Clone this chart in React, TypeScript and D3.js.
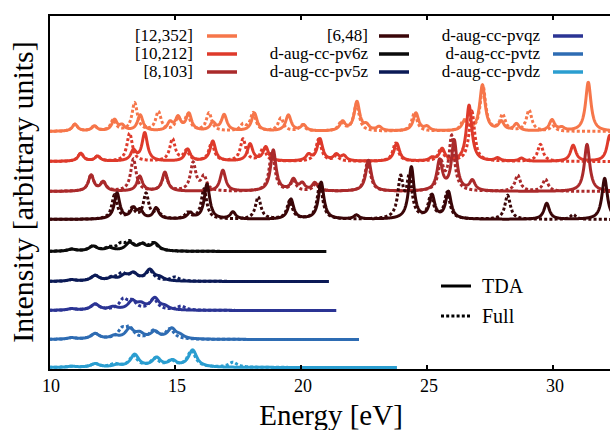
import React from "react";
import * as d3 from "d3";

// ---- data ----
const seriesNames = [
  "[12,352]", "[10,212]", "[8,103]",
  "[6,48]", "d-aug-cc-pv6z", "d-aug-cc-pv5z",
  "d-aug-cc-pvqz", "d-aug-cc-pvtz", "d-aug-cc-pvdz",
];
const seriesColors = [
  "#f6764a", "#de3a2b", "#aa2a2b",
  "#3a0608", "#0b0b0b", "#0b1a56",
  "#2b3494", "#2e6cb3", "#2b9ed0",
];
// vertical offsets of each spectrum (arbitrary units)
const seriesOffsets = [236, 206, 176, 148, 116, 86, 57, 28, 0];
// last energy of each spectrum (eV)
const seriesEnds = [33, 33, 33, 33, 21.0, 21.1, 21.4, 22.3, 23.8];
// broadening (HWHM, eV)
const seriesGammas = [0.13, 0.13, 0.13, 0.13, 0.2, 0.2, 0.2, 0.2, 0.2];

// peaks [energy eV, height] — TDA (solid) and Full (dotted)
const tda12 = [[11.03,7],[11.8,5],[12.6,11],[12.9,5],[13.62,16],[14.8,8],[15.12,13],[15.55,17],[16.5,8],[16.95,16],[18.15,18],[19.5,16],[20.1,6],[21.65,9],[22.22,29],[22.6,5],[23.1,4],[24.56,18],[25.0,4],[26.5,10],[27.2,46],[27.95,9],[28.55,7],[29.96,11],[30.35,3],[31.4,49]];
const full12 = [[11.03,7],[11.8,5],[12.55,11],[13.4,28],[14.34,19],[15.12,12],[15.5,15],[16.35,18],[17.7,6],[18.1,18],[19.2,13],[20.05,6],[21.6,9],[22.2,27],[24.5,18],[26.45,10],[27.22,45],[28.0,16],[29.05,21],[30.0,5]];
const tda10 = [[11.26,8],[11.93,5],[13.35,10],[13.8,28],[15.5,12],[16.5,20],[17.98,17],[18.6,14],[20.3,6],[20.75,22],[21.4,6],[21.7,5],[23.8,18],[25.2,3],[25.6,12],[26.67,56],[27.8,3],[28.75,3],[30.8,16],[32.25,26]];
const full10 = [[11.26,8],[11.93,5],[13.2,28],[14.9,22],[15.45,10],[16.45,18],[17.7,22],[18.5,13],[20.7,22],[21.4,5],[23.75,18],[25.55,12],[26.78,50],[29.5,17]];
const tda8 = [[11.67,16],[12.15,9],[13.6,15],[14.6,19],[16.9,21],[18.9,41],[19.7,11],[20.05,7],[20.55,8],[22.68,31],[25.5,30],[26.08,50],[26.8,10],[31.35,47]];
const full8 = [[11.67,16],[12.15,9],[13.35,32],[14.6,17],[15.72,28],[16.15,14],[18.85,40],[19.7,10],[20.6,8],[22.65,30],[25.55,27],[25.98,54],[28.6,16],[29.7,12]];
const tda6 = [[12.7,26],[13.35,10],[13.62,8],[14.25,11],[15.6,6],[16.27,35],[17.3,7],[19.6,20],[20.8,37],[22.2,4],[24.38,52],[25.2,23],[25.85,27],[29.75,16],[32.05,41]];
const full6 = [[12.6,24],[13.3,10],[13.85,25],[14.3,8],[15.5,6],[16.15,30],[18.3,22],[19.55,18],[20.75,35],[23.95,39],[24.3,40],[25.15,22],[25.8,26],[28.2,24],[30.8,5]];
const tda6z = [[10.9,2],[11.75,5],[12.4,3],[13.2,8],[13.7,6],[14.2,7.5]];
const full6z = [[10.9,2],[11.75,5],[12.4,3],[12.85,6],[13.2,8],[13.7,6],[14.15,7.5]];
const tda5z = [[10.9,1.5],[11.83,5.5],[12.5,3],[13.0,5],[13.35,7],[14.0,11],[14.4,3]];
const full5z = [[10.9,1.5],[11.83,5.5],[12.5,3],[12.9,7],[13.35,7],[14.0,10],[15.0,4]];
const tdaqz = [[10.9,1.5],[11.83,6],[12.55,3],[13.3,8.5],[13.65,5],[14.2,11.5],[14.6,3]];
const fullqz = [[10.9,1.5],[11.83,6],[12.95,10],[13.3,8],[14.15,11],[15.25,4]];
const tdatz = [[10.9,1.5],[11.83,5.5],[12.6,3],[13.2,10],[13.6,5],[14.2,7],[14.87,10],[15.2,3]];
const fulltz = [[10.9,1.5],[11.83,5.5],[12.9,9],[13.2,10],[14.15,8],[14.8,10]];
const tdadz = [[10.9,1],[11.83,3.5],[12.7,2],[13.4,12.5],[14.27,9],[14.9,6],[15.7,17]];
const fulldz = [[10.9,1],[11.83,3.5],[12.6,3],[13.35,11],[14.2,8],[14.85,6],[15.65,16],[17.3,5]];

const tdaPeaks = [tda12, tda10, tda8, tda6, tda6z, tda5z, tdaqz, tdatz, tdadz];
const fullPeaks = [full12, full10, full8, full6, full6z, full5z, fullqz, fulltz, fulldz];

const xTicks = [10, 15, 20, 25, 30];
const methodNames = ["TDA", "Full"];

// ---- layout ----
const W = 610, H = 430;
const plotLeft = 49, plotTop = 15, plotBottom = 370, plotRight = 614;
const FONT = "Liberation Serif, Tinos, Times New Roman, DejaVu Serif, serif";
const DOT = "3,2.2";

const x = d3.scaleLinear().domain([10, 30]).range([plotLeft, 553]);
const y = d3.scaleLinear().domain([0, 100]).range([367.5, 267.5]);

function spectrum(peaks: number[][], gamma: number, offset: number, end: number) {
  const pts: [number, number][] = [];
  const g2 = gamma * gamma;
  for (let e = 10; e <= end + 1e-9; e += 0.01) {
    let v = 0;
    for (const [p, h] of peaks) v += (h * g2) / ((e - p) * (e - p) + g2);
    pts.push([e, offset + v]);
  }
  return pts;
}

const line = d3.line<[number, number]>().x(d => x(d[0])).y(d => y(d[1]));

export default function App() {
  const legendCols = [
    { textX: 193, lineX: 207 },
    { textX: 368, lineX: 379 },
    { textX: 540, lineX: 553 },
  ];
  const legendRows = [36, 54, 72];
  const txt = { fontFamily: FONT };
  return (
    <svg width={W} height={H} style={{ position: "absolute", left: 0, top: 0, background: "#fff" }}>
      <defs>
        <clipPath id="plotclip">
          <rect x={plotLeft} y={plotTop} width={plotRight - plotLeft} height={plotBottom - plotTop} />
        </clipPath>
      </defs>
      <g clipPath="url(#plotclip)" fill="none" strokeLinejoin="round">
        {seriesNames.map((n, i) => (
          <g key={n}>
            <path d={line(spectrum(tdaPeaks[i], seriesGammas[i], seriesOffsets[i], seriesEnds[i])) || ""}
              stroke={seriesColors[i]} strokeWidth={3} />
            <path d={line(spectrum(fullPeaks[i], seriesGammas[i], seriesOffsets[i], seriesEnds[i])) || ""}
              stroke={seriesColors[i]} strokeWidth={3} strokeDasharray={DOT} strokeLinejoin="miter" />
          </g>
        ))}
      </g>
      {/* border */}
      <g stroke="#000" strokeWidth={2} fill="none">
        <line x1={plotLeft} y1={plotTop} x2={plotRight} y2={plotTop} />
        <line x1={plotLeft} y1={plotTop - 1} x2={plotLeft} y2={plotBottom + 1} />
        <line x1={plotLeft} y1={plotBottom} x2={plotRight} y2={plotBottom} />
        {xTicks.slice(1).map(t => (
          <g key={t}>
            <line x1={x(t)} x2={x(t)} y1={plotBottom} y2={plotBottom - 5} />
            <line x1={x(t)} x2={x(t)} y1={plotTop} y2={plotTop + 5} />
          </g>
        ))}
      </g>
      <g style={txt} fontSize={18} fill="#000" textAnchor="middle">
        {xTicks.map(t => (
          <text key={t} x={x(t) + 2} y={392} style={txt}>{t}</text>
        ))}
      </g>
      <text x={331} y={425} style={txt} fontSize={29} textAnchor="middle">Energy [eV]</text>
      <text transform="translate(33,192) rotate(-90)" style={txt} fontSize={30} textAnchor="middle">
        Intensity [arbitrary units]
      </text>
      {/* series legend */}
      <g style={txt} fontSize={17}>
        {seriesNames.map((n, i) => {
          const c = legendCols[Math.floor(i / 3)];
          const ry = legendRows[i % 3];
          return (
            <g key={n}>
              <text x={c.textX} y={ry + 5} textAnchor="end" style={txt}>{n}</text>
              <line x1={c.lineX} x2={c.lineX + 30} y1={ry} y2={ry} stroke={seriesColors[i]} strokeWidth={3.5} />
            </g>
          );
        })}
      </g>
      {/* method legend */}
      <g style={txt} fontSize={20}>
        {methodNames.map((m, i) => (
          <g key={m}>
            <line x1={441} x2={471} y1={286 + i * 30} y2={286 + i * 30} stroke="#000" strokeWidth={3}
              strokeDasharray={i === 1 ? DOT : undefined} />
            <text x={482} y={293 + i * 30} style={txt}>{m}</text>
          </g>
        ))}
      </g>
    </svg>
  );
}
